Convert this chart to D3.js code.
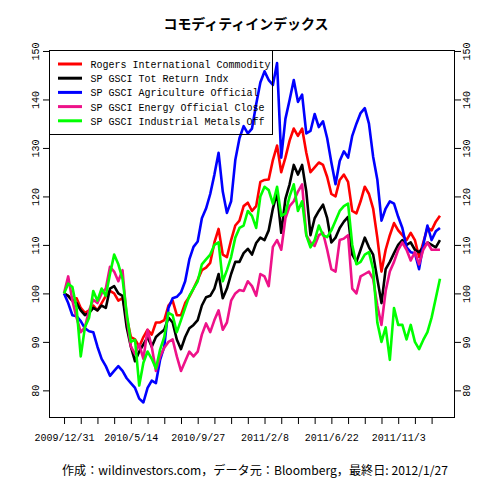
<!DOCTYPE html>
<html><head><meta charset="utf-8">
<script src="https://cdn.jsdelivr.net/npm/d3@7"></script>
<style>body{margin:0;background:#fff} svg{display:block}</style>
</head><body><svg id="c" width="480" height="480"></svg>
<script>
// ---- data ----
const seriesNames = ["Rogers International Commodity","SP GSCI Tot Return Indx","SP GSCI Agriculture Official","SP GSCI Energy Official Close","SP GSCI Industrial Metals Off"];
const seriesColors = ["#FF0000","#000000","#0000FF","#EE1289","#00FF00"];
// values sampled every 6 business days, 2009/12/31 .. 2012/1/27
const sampleStep = 6;
const rogers = [100,99.5,98.5,99,97,96,96.5,97.5,96.5,98,99.5,100.5,100,98.5,99,95,91,90.5,89,91,92.5,91.5,94,94,94.5,97.5,98.5,95.5,95.5,98,99.3,101,102.8,104.8,105.3,106.3,110.5,113.3,108,107.5,111,114,115,118,118.7,117,118,123,123.4,123.5,127.5,130.5,125,128,131.5,134,132.5,134,129,125,126,127,126.5,124,120.5,120,123.4,124.5,123,117,116.5,119,122,120.5,117.5,111.5,104.5,109,112,114.5,113,112,111,112.5,111,107.5,110.5,113.5,113,114.8,116];
const spgsciTR = [100,99.5,98.5,98,96.5,95.5,96,97,96.5,97.5,97,101,101.5,100,99.5,93,89,86,88,89.5,91,89,91,91.8,92.5,95,94,90.5,88.5,91,92.8,93.5,94.5,97.5,99.2,99.5,101,104,99,101,104,106.5,106.5,108.3,109.2,108,110.4,111.5,111,113,117.5,120.7,112.5,119.5,122.5,126.5,124.5,126.5,121,112,115.5,117,118.3,115.5,110.5,111.5,113.5,114.8,115.8,108,106.5,109,111.5,109.5,108,103,98,105,106.5,108.3,110,111,110,110.5,109,108.5,109.5,110.5,110,109.5,111];
const agriculture = [100,98,95.5,95.3,94.3,92.8,92.2,92,89,86.5,85,83,84,85,84,82.5,81.5,80.5,78.3,77.5,80.5,82,81.5,86.3,89,97,99,99.3,100.2,102.5,107,109.6,110.7,115.5,117.5,120.5,124.5,129,121,116.6,119,127.5,132,134.5,133,134,139,143.5,145.8,144,143,147.5,128,136,139.9,144,139.5,141,133,133.5,137,134.3,135.5,132,127,122.5,127.3,129.3,128,132.5,135,137.2,138.2,135,128.2,123.5,115,117.5,119,118.5,115.8,113.5,109.5,108.5,108.3,105,110,114,111,112.8,113.5];
const energy = [100,103.5,98.5,95,92,93,96.5,98.7,98,100,101,105.5,104.5,102.5,104.8,95,89,87.5,89.5,86.5,92.5,89,84,87,88.8,90,90.5,87,84,86,88,87,88,91.5,93.8,92,94.5,96.5,92.5,94,98.5,100,100.7,100.5,102.5,101.5,99.5,104,103.5,101.5,109.6,111,109,115.5,118,119,121,122.5,112,110.5,109.8,112,112.5,109,105,104.5,111,111.3,112,101,100,103.5,104,104.5,103,97.5,93.5,100.5,104.5,106.5,109,110.5,109,106.8,108.5,106,109,110.5,109,109,109];
const metals = [100,102,101.3,97,87,93,95,100.5,98.5,101,99.5,104,108,106,103,96,90,90.4,81,85.7,88,86.5,84.5,88.4,91,96,95.5,92,94.5,97,99.5,101,102.5,106,107,108,110,110.5,102.5,104.8,107.5,111.5,113.5,114,117,116,113.5,120,122,121.3,118.5,122,116,116.5,120,122.5,117,119,112,109.5,111,114,112,111.6,113,115,117,118,118.5,110,106,106.5,108,108.5,105,94,90,93,86.3,97,93.5,93.5,90.5,93.5,90,88.5,90.4,92,95,99,103];
const allSeries = [rogers, spgsciTR, agriculture, energy, metals];
const xTickEvery = 24;          // business days between ticks
const xLabelEvery = 96;         // labelled ticks
const xLabels = ["2009/12/31","2010/5/14","2010/9/27","2011/2/8","2011/6/22","2011/11/3"];
const yTicks = [80,90,100,110,120,130,140,150];
const titleText = "コモディティインデックス";
const captionText = "作成：wildinvestors.com，データ元：Bloomberg，最終日: 2012/1/27";

// ---- layout ----
const svg = d3.select("#c");
const L = 49, R = 455, T = 50, B = 418;
const nObs = (rogers.length - 1) * sampleStep;
const xPad = nObs * 0.04;
const x = d3.scaleLinear().domain([-xPad, nObs + xPad]).range([L, R]);
const y = d3.scaleLinear().domain([74.3, 150.2]).range([B, T]);
const mono = "'Liberation Mono','DejaVu Sans Mono',monospace";

svg.append("rect").attr("width",480).attr("height",480).attr("fill","#fff");

// lines
const line = d3.line().x((d,i) => x(i * sampleStep)).y(d => y(d));
svg.append("g").selectAll("path").data(allSeries).join("path")
  .attr("d", line).attr("fill","none")
  .attr("stroke", (d,i) => seriesColors[i])
  .attr("stroke-width", 2.6).attr("stroke-linejoin","round");

// frame
svg.append("rect").attr("x",L+0.5).attr("y",T+0.5).attr("width",R-L-1).attr("height",B-T-1)
  .attr("fill","none").attr("stroke","#000").attr("stroke-width",1);

function styleYAxis(g, dx) {
  g.select(".domain").remove();
  g.selectAll(".tick line").attr("stroke","#000");
  g.selectAll("text").attr("x",0).attr("y",0).attr("dy",null)
    .attr("transform",`translate(${dx},0) rotate(-90)`)
    .attr("text-anchor","middle").attr("dominant-baseline","central")
    .attr("font-family",mono).attr("font-size",11).attr("fill","#000")
    .attr("textLength", function(){ return this.textContent.length*6; })
    .attr("lengthAdjust","spacingAndGlyphs");
}
const yl = svg.append("g").attr("transform",`translate(${L},0)`)
  .call(d3.axisLeft(y).tickValues(yTicks).tickSize(6).tickFormat(d3.format("d")));
styleYAxis(yl, -13);
const yr = svg.append("g").attr("transform",`translate(${R},0)`)
  .call(d3.axisRight(y).tickValues(yTicks).tickSize(6).tickFormat(d3.format("d")));
styleYAxis(yr, 12);

const xg = svg.append("g").attr("transform",`translate(0,${B})`)
  .call(d3.axisBottom(x).tickValues(d3.range(0, nObs, xTickEvery)).tickSize(6)
    .tickFormat(d => d % xLabelEvery === 0 ? xLabels[d / xLabelEvery] : ""));
xg.select(".domain").remove();
xg.selectAll(".tick line").attr("stroke","#000");
xg.selectAll("text").attr("y",15).attr("font-family",mono).attr("font-size",11).attr("fill","#000")
  .filter(function(){ return this.textContent.length > 0; })
  .attr("textLength", function(){ return this.textContent.length*6; })
  .attr("lengthAdjust","spacingAndGlyphs");

// legend
const lg = svg.append("g");
lg.append("rect").attr("x",L+0.5).attr("y",T+0.5).attr("width",223).attr("height",84)
  .attr("fill","none").attr("stroke","#000");
seriesNames.forEach((name,i) => {
  const cy = 64 + i*14.2;
  lg.append("line").attr("x1",58).attr("x2",82).attr("y1",cy).attr("y2",cy)
    .attr("stroke",seriesColors[i]).attr("stroke-width",3);
  lg.append("text").attr("x",90.5).attr("y",cy+4).text(name)
    .attr("font-family",mono).attr("font-size",11).attr("fill","#000")
    .attr("textLength",name.length*6).attr("lengthAdjust","spacingAndGlyphs");
});

// title & caption
svg.append("text").attr("x",246).attr("y",29).attr("text-anchor","middle")
  .attr("font-family","'Noto Sans CJK JP',sans-serif").attr("font-size",14).attr("font-weight","bold")
  .attr("textLength",165).attr("lengthAdjust","spacingAndGlyphs").text(titleText);
svg.append("text").attr("x",255).attr("y",475).attr("text-anchor","middle")
  .attr("font-family","'Noto Sans CJK JP',sans-serif").attr("font-size",12)
  .attr("textLength",386).attr("lengthAdjust","spacingAndGlyphs").text(captionText);
</script></body></html>
